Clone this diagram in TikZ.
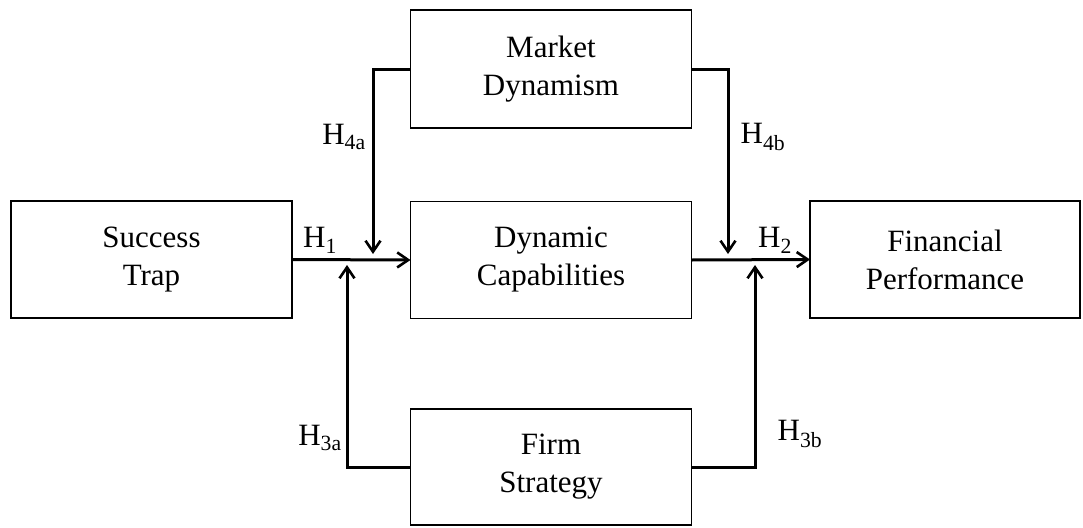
\documentclass[tikz,border=0pt]{standalone}
\usepackage{fontspec}
\setmainfont{Liberation Serif}
\usetikzlibrary{arrows.meta}

\begin{document}
\begin{tikzpicture}[x=1pt, y=-1pt, >={Straight Barb[length=11pt,width=15pt,line width=2.6pt]},
  box/.style={draw, line width=1.3pt, minimum width=281pt, minimum height=117pt, outer sep=0pt,
    align=center, font=\fontsize{31}{38}\selectfont},
  conn/.style={->, line width=3pt},
  hyp/.style={font=\fontsize{31}{36}\selectfont}]
\useasboundingbox (0,0) rectangle (1083,527);

% boxes
\node[box] (trap) at (151.5,259.5) {Success\\Trap};
\node[box] (dyn) at (551,260) {Dynamic\\Capabilities};
\node[box, minimum width=270pt] (fin) at (945,259.5) {Financial\\Performance};
\node[box, minimum height=118pt] (mkt) at (551,69) {Market\\Dynamism};
\node[box, minimum height=116pt] (firm) at (551,467) {Firm\\Strategy};

% arrow ends
\coordinate (m1) at (373,254);
\coordinate (m2) at (728,254);
\coordinate (f1) at (347,265);
\coordinate (f2) at (755,265);

\draw[conn] (trap.east) -- (dyn.west);
\draw[conn] (dyn.east) -- (fin.west);
\draw[conn] (mkt.west) -| (m1);
\draw[conn] (mkt.east) -| (m2);
\draw[conn] (firm.west) -| (f1);
\draw[conn] (firm.east) -| (f2);

% labels
\node[hyp] (h1) at (320,240) {H\textsubscript{1}};
\node[hyp] (h2) at (775,240) {H\textsubscript{2}};
\node[hyp] (h4a) at (344,137) {H\textsubscript{4a}};
\node[hyp] (h4b) at (763,137) {H\textsubscript{4b}};
\node[hyp] (h3a) at (320,438) {H\textsubscript{3a}};
\node[hyp] (h3b) at (800,434) {H\textsubscript{3b}};
\end{tikzpicture}
\end{document}
